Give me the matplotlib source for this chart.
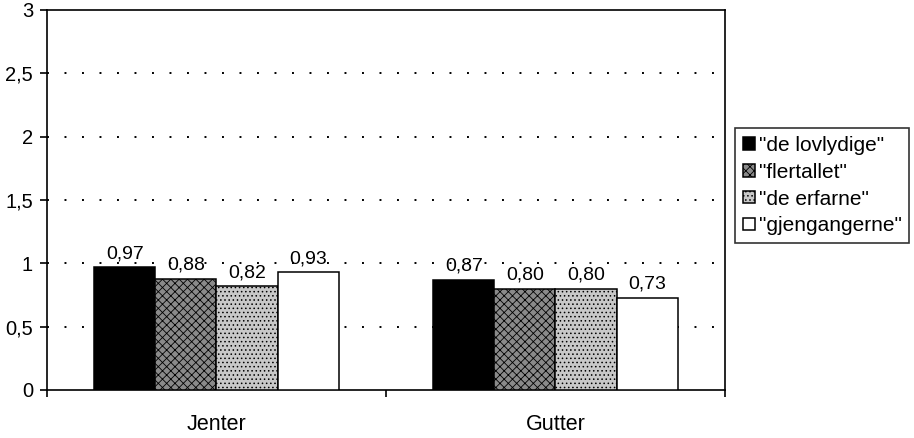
import matplotlib.pyplot as plt
import numpy as np

plt.rcParams['font.family'] = ['Liberation Sans', 'DejaVu Sans']
plt.rcParams['hatch.linewidth'] = 0.6

# data
categories = ['Jenter', 'Gutter']
series = ['"de lovlydige"', '"flertallet"', '"de erfarne"', '"gjengangerne"']
values = [
    [0.97, 0.87],  # de lovlydige
    [0.88, 0.80],  # flertallet
    [0.82, 0.80],  # de erfarne
    [0.93, 0.73],  # gjengangerne
]
yticks = [0, 0.5, 1, 1.5, 2, 2.5, 3]
ytick_labels = ['0', '0,5', '1', '1,5', '2', '2,5', '3']

# styles per series
faces = ['black', '#8a8a8a', '#c8c8c8', 'white']
hatches = [None, 'xxxx', '....', None]

fig = plt.figure(figsize=(9.14, 4.38), dpi=100)
ax = fig.add_axes([0.0514, 0.1096, 0.7418, 0.8676])

x = np.arange(len(categories))
w = 0.18
for i, (name, vals) in enumerate(zip(series, values)):
    pos = x + (i - 1.5) * w
    ax.bar(pos, vals, width=w, color=faces[i], edgecolor='black',
           linewidth=1.1, hatch=hatches[i], label=name, zorder=3)
    for px, v in zip(pos, vals):
        ax.text(px, v + 0.04, f'{v:.2f}'.replace('.', ','), ha='center',
                va='bottom', fontsize=14)

ax.set_xlim(-0.5, 1.5)
ax.set_ylim(0, 3)
ax.set_yticks(yticks)
ax.set_yticklabels(ytick_labels, fontsize=14.5)
for y in yticks[1:-1]:
    ax.axhline(y, color='black', linestyle=(0, (1, 8)), linewidth=1.4, zorder=1)

# category labels centered, ticks at the group boundaries
ax.set_xticks([-0.5, 0.5, 1.5])
ax.set_xticklabels([])
ax.set_xticks(x, minor=True)
ax.set_xticklabels(categories, minor=True, fontsize=15.5)
ax.tick_params(axis='x', which='minor', length=0, pad=17)
ax.tick_params(axis='x', which='major', length=5, width=1.2, direction='out')
ax.tick_params(axis='y', length=5, width=1.2, direction='out', pad=5)

for s in ax.spines.values():
    s.set_linewidth(1.2)

leg = ax.legend(loc='upper left', bbox_to_anchor=(1.015, 0.69), fontsize=15,
                frameon=True, fancybox=False, edgecolor='black',
                handlelength=0.55, handleheight=0.55, handletextpad=0.2,
                borderpad=0.38, labelspacing=0.38, borderaxespad=0)
leg.get_frame().set_linewidth(1.2)

fig.savefig('out.png', dpi=100)
